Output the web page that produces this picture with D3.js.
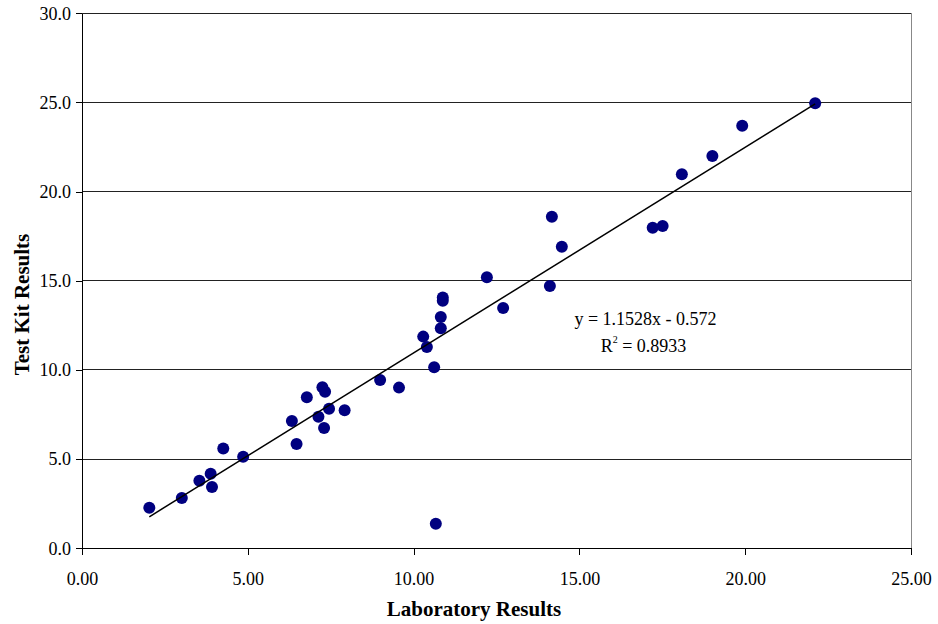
<!DOCTYPE html>
<html>
<head>
<meta charset="utf-8">
<script src="https://cdn.jsdelivr.net/npm/d3@7"></script>
<style>
  body { margin: 0; background: #fff; }
  svg { display: block; }
  text { font-family: "Liberation Serif", "Times New Roman", serif; fill: #000; }
  .axis-label { font-weight: bold; font-size: 21px; }
</style>
</head>
<body>
<svg id="chart" width="938" height="624"></svg>
<script>
// values
const labResults = [2.03, 3.01, 3.54, 3.88, 3.92, 4.26, 4.86, 6.33, 6.47, 6.78,
  7.13, 7.25, 7.33, 7.30, 7.45, 7.92, 8.99, 9.56, 10.29, 10.40,
  10.62, 10.67, 10.82, 10.82, 10.88, 10.88, 12.21, 12.70, 14.11, 14.17,
  14.47, 17.21, 17.51, 18.09, 19.01, 19.91, 22.11];
const kitResults = [2.28, 2.82, 3.79, 4.18, 3.44, 5.59, 5.14, 7.14, 5.85, 8.47,
  7.38, 9.03, 8.78, 6.75, 7.83, 7.74, 9.44, 9.01, 11.87, 11.29,
  10.15, 1.38, 12.97, 12.34, 14.07, 13.88, 15.20, 13.47, 14.71, 18.59,
  16.91, 17.98, 18.07, 20.97, 22.00, 23.70, 24.95];
const xTicks = [0, 5, 10, 15, 20, 25];
const yTicks = [0, 5, 10, 15, 20, 25, 30];
const trendSlope = 1.1528;
const trendIntercept = -0.572;
const rSquared = 0.8933;

const data = labResults.map((v, i) => ({ lab: v, kit: kitResults[i] }));

const margin = { top: 13.3, right: 27, bottom: 75.7, left: 82 };
const outerWidth = 938, outerHeight = 624;
const width = outerWidth - margin.left - margin.right;
const height = outerHeight - margin.top - margin.bottom;

const svg = d3.select('#chart');
const g = svg.append('g').attr('transform', 'translate(' + margin.left + ',' + margin.top + ')');

const xScale = d3.scaleLinear().domain([0, 25]).range([0, width]);
const yScale = d3.scaleLinear().domain([0, 30]).range([height, 0]);

// horizontal grid lines
g.append('g').selectAll('line')
  .data(yTicks.filter(d => d > 0))
  .join('line')
  .attr('x1', 0).attr('x2', width)
  .attr('y1', d => yScale(d)).attr('y2', d => yScale(d))
  .attr('stroke', '#222').attr('stroke-width', 1)
  .attr('shape-rendering', 'crispEdges');

// right border of plot area
g.append('line')
  .attr('x1', width).attr('x2', width)
  .attr('y1', 0).attr('y2', height)
  .attr('stroke', '#888').attr('shape-rendering', 'crispEdges');

const xAxis = g.append('g')
  .attr('transform', 'translate(0,' + height + ')')
  .call(d3.axisBottom(xScale).tickValues(xTicks).tickFormat(d3.format('.2f')).tickSize(7).tickPadding(17).tickSizeOuter(0));

const yAxis = g.append('g')
  .call(d3.axisLeft(yScale).tickValues(yTicks).tickFormat(d3.format('.1f')).tickSize(6).tickPadding(5).tickSizeOuter(0));

[xAxis, yAxis].forEach(a => {
  a.selectAll('path, line').attr('stroke', '#000').attr('shape-rendering', 'crispEdges');
  a.selectAll('text').attr('font-size', 18).attr('font-family', '"Liberation Serif", "Times New Roman", serif').attr('fill', '#000');
});

// points
g.append('g').selectAll('circle')
  .data(data)
  .join('circle')
  .attr('cx', d => xScale(d.lab))
  .attr('cy', d => yScale(d.kit))
  .attr('r', 6)
  .attr('fill', '#000080');

// linear trendline over the data range
const xExt = d3.extent(labResults);
const trend = xExt.map(x => ({ lab: x, kit: trendSlope * x + trendIntercept }));
const line = d3.line().x(d => xScale(d.lab)).y(d => yScale(d.kit));
g.append('path').datum(trend)
  .attr('fill', 'none').attr('stroke', '#000').attr('stroke-width', 1.5)
  .attr('d', line);

// equation label
const eqX = 645.5 - margin.left;
g.append('text')
  .attr('x', eqX).attr('y', 325 - margin.top)
  .attr('text-anchor', 'middle').attr('font-size', 18)
  .text('y = ' + trendSlope + 'x - ' + Math.abs(trendIntercept));
const r2 = g.append('text')
  .attr('x', eqX - 2).attr('y', 352 - margin.top)
  .attr('text-anchor', 'middle').attr('font-size', 18);
r2.append('tspan').text('R');
r2.append('tspan').attr('font-size', 10).attr('dy', -9).text('2');
r2.append('tspan').attr('dy', 9).text(' = ' + rSquared);

// axis titles
svg.append('text').attr('class', 'axis-label')
  .attr('x', 474).attr('y', 616)
  .attr('text-anchor', 'middle')
  .text('Laboratory Results');

svg.append('text').attr('class', 'axis-label')
  .attr('transform', 'translate(29,304.5) rotate(-90)')
  .attr('text-anchor', 'middle')
  .text('Test Kit Results');
</script>
</body>
</html>
